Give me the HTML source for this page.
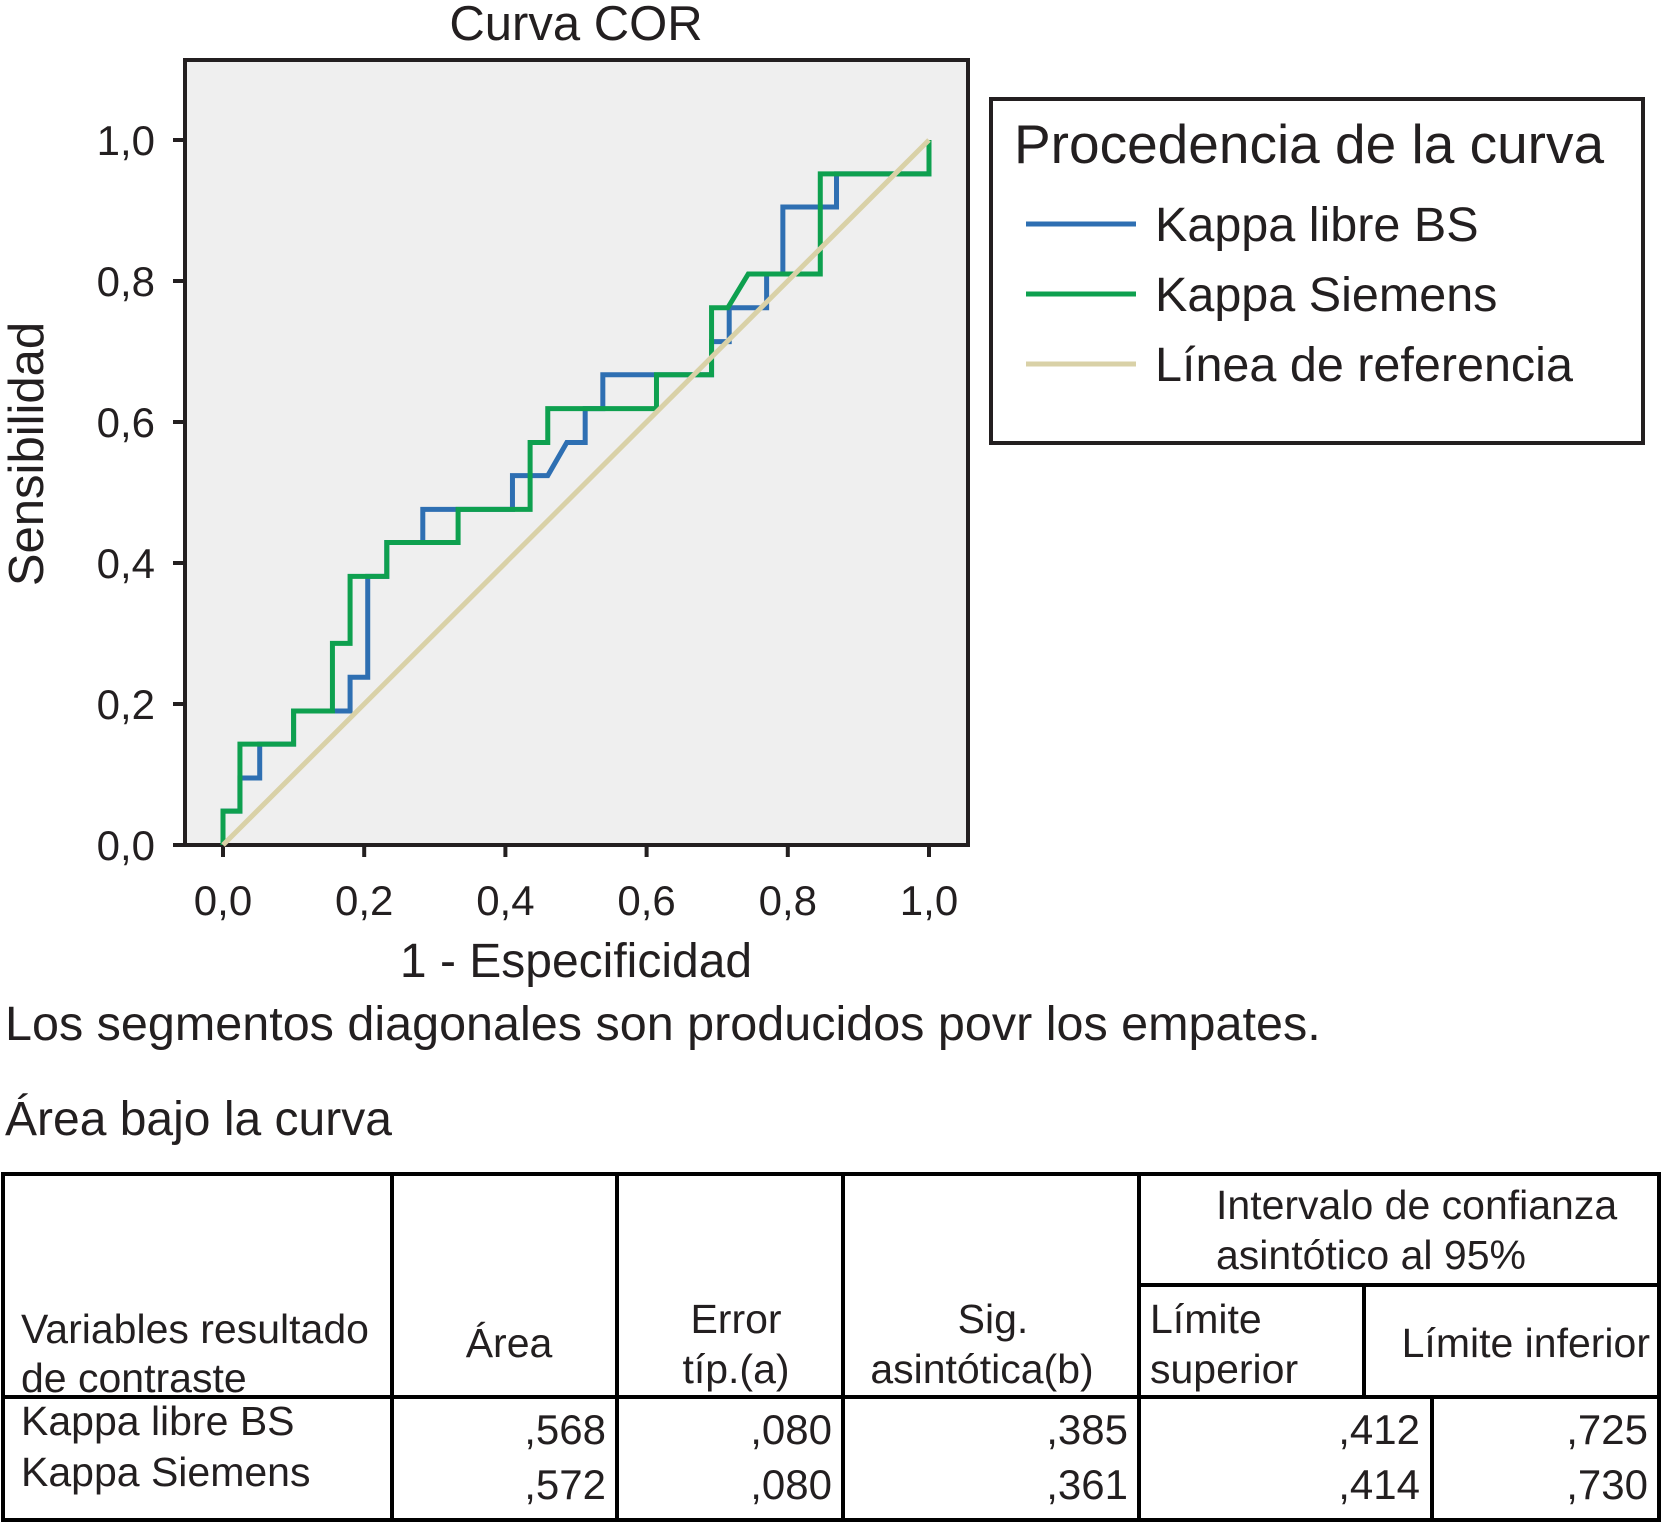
<!DOCTYPE html>
<html><head><meta charset="utf-8"><style>
html,body{margin:0;padding:0;background:#fff;}
svg{display:block;font-family:"Liberation Sans",Arial,sans-serif;fill:#231f20;}
</style></head><body>
<svg id="chart" width="1662" height="1523" viewBox="0 0 1662 1523" xmlns="http://www.w3.org/2000/svg">
<text x="576" y="40" font-size="49" text-anchor="middle">Curva COR</text>
<rect x="185" y="60" width="783" height="785" fill="#efefef" stroke="#231f20" stroke-width="4"/>
<g id="ticks"></g>
<g id="series"></g>
<text x="576" y="977" font-size="48" text-anchor="middle">1 - Especificidad</text>
<text transform="translate(43,454) rotate(-90)" font-size="49" text-anchor="middle">Sensibilidad</text>
<g>
<rect x="991" y="99" width="652" height="344" fill="#fff" stroke="#231f20" stroke-width="4"/>
<text x="1014" y="163" font-size="55">Procedencia de la curva</text>
<line x1="1026" y1="224" x2="1136" y2="224" stroke="#2e6fb2" stroke-width="5"/>
<text x="1155" y="241" font-size="48.5">Kappa libre BS</text>
<line x1="1026" y1="294" x2="1136" y2="294" stroke="#0ea04f" stroke-width="5"/>
<text x="1155" y="311" font-size="48.5">Kappa Siemens</text>
<line x1="1026" y1="364" x2="1136" y2="364" stroke="#d9d1a7" stroke-width="5"/>
<text x="1155" y="381" font-size="48.5">Línea de referencia</text>
</g>
<text x="5" y="1040" font-size="48.5">Los segmentos diagonales son producidos povr los empates.</text>
<text x="5" y="1135" font-size="48">Área bajo la curva</text>
<g stroke="#000" stroke-width="4">
<rect x="3" y="1174" width="1656" height="346" fill="none"/>
<line x1="3" y1="1397" x2="1659" y2="1397"/>
<line x1="392" y1="1174" x2="392" y2="1520"/>
<line x1="617" y1="1174" x2="617" y2="1520"/>
<line x1="843" y1="1174" x2="843" y2="1520"/>
<line x1="1139" y1="1174" x2="1139" y2="1520"/>
<line x1="1139" y1="1285" x2="1659" y2="1285"/>
<line x1="1364" y1="1285" x2="1364" y2="1397"/>
<line x1="1432" y1="1397" x2="1432" y2="1520"/>
</g>
<g font-size="41">
<text x="21" y="1343">Variables resultado</text>
<text x="21" y="1392">de contraste</text>
<text x="509" y="1357" text-anchor="middle">Área</text>
<text x="736" y="1333" text-anchor="middle">Error</text>
<text x="736" y="1383" text-anchor="middle">típ.(a)</text>
<text x="993" y="1333" text-anchor="middle">Sig.</text>
<text x="982" y="1383" text-anchor="middle">asintótica(b)</text>
<text x="1216" y="1219">Intervalo de confianza</text>
<text x="1216" y="1269">asintótico al 95%</text>
<text x="1150" y="1333">Límite</text>
<text x="1150" y="1383">superior</text>
<text x="1650" y="1357" text-anchor="end">Límite inferior</text>
<text x="21" y="1435">Kappa libre BS</text>
<text x="21" y="1486">Kappa Siemens</text>
</g>
<g id="tbody" font-size="42"></g>
</svg>
<script>
const NS="http://www.w3.org/2000/svg";
const xTicks=[0,0.2,0.4,0.6,0.8,1.0];
const yTicks=[0,0.2,0.4,0.6,0.8,1.0];
const tickLabels=["0,0","0,2","0,4","0,6","0,8","1,0"];
const blueX=[0,0,0.024,0.024,0.052,0.052,0.1,0.1,0.18,0.18,0.205,0.205,0.232,0.232,0.283,0.283,0.41,0.41,0.46,0.487,0.513,0.513,0.538,0.538,0.692,0.692,0.717,0.717,0.77,0.77,0.793,0.793,0.869,0.869,1,1];
const blueY=[0,0.048,0.048,0.095,0.095,0.143,0.143,0.19,0.19,0.238,0.238,0.381,0.381,0.429,0.429,0.476,0.476,0.524,0.524,0.571,0.571,0.619,0.619,0.667,0.667,0.714,0.714,0.762,0.762,0.81,0.81,0.905,0.905,0.952,0.952,1];
const greenX=[0,0,0.024,0.024,0.1,0.1,0.155,0.155,0.18,0.18,0.232,0.232,0.333,0.333,0.435,0.435,0.46,0.46,0.614,0.614,0.692,0.692,0.715,0.744,0.846,0.846,1,1];
const greenY=[0,0.048,0.048,0.143,0.143,0.19,0.19,0.286,0.286,0.381,0.381,0.429,0.429,0.476,0.476,0.571,0.571,0.619,0.619,0.667,0.667,0.762,0.762,0.81,0.81,0.952,0.952,1];
const refX=[0,1];
const refY=[0,1];
const rowAreas=[",568",",572"];
const rowErrors=[",080",",080"];
const rowSig=[",385",",361"];
const rowUpper=[",412",",414"];
const rowLower=[",725",",730"];
const X=v=>223+v*706;
const Y=v=>845-v*705;
const tg=document.getElementById('ticks');
xTicks.forEach((v,i)=>{
  const l=document.createElementNS(NS,'line');
  
  
  l.setAttribute('x1',X(v));l.setAttribute('x2',X(v));l.setAttribute('y1',845);l.setAttribute('y2',857);
  l.setAttribute('stroke','#231f20');l.setAttribute('stroke-width','4');tg.appendChild(l);
  const t=document.createElementNS(NS,'text');
  
  
  t.setAttribute('x',X(v));t.setAttribute('y',915);t.setAttribute('font-size','42');t.setAttribute('text-anchor','middle');
  t.textContent=tickLabels[i];tg.appendChild(t);
});
yTicks.forEach((v,i)=>{
  const l=document.createElementNS(NS,'line');
  
  
  l.setAttribute('x1',173);l.setAttribute('x2',185);l.setAttribute('y1',Y(v));l.setAttribute('y2',Y(v));
  l.setAttribute('stroke','#231f20');l.setAttribute('stroke-width','4');tg.appendChild(l);
  const t=document.createElementNS(NS,'text');
  
  
  t.setAttribute('x',155);t.setAttribute('y',Y(v)+15);t.setAttribute('font-size','42');t.setAttribute('text-anchor','end');
  t.textContent=tickLabels[i];tg.appendChild(t);
});
const sg=document.getElementById('series');
function line(xs,ys,color,name){
  const p=document.createElementNS(NS,'polyline');
  
  
  p.setAttribute('points',xs.map((x,i)=>X(x)+','+Y(ys[i])).join(' '));
  p.setAttribute('fill','none');p.setAttribute('stroke',color);p.setAttribute('stroke-width','5');
  sg.appendChild(p);
}
line(blueX,blueY,'#2e6fb2','series-kappa-libre-bs');
line(greenX,greenY,'#0ea04f','series-kappa-siemens');
line(refX,refY,'#d9d1a7','reference-line');
const tb=document.getElementById('tbody');
const cols=[[rowAreas,606],[rowErrors,832],[rowSig,1128],[rowUpper,1420],[rowLower,1648]];
[1444,1499].forEach((yy,r)=>{
  cols.forEach(([arr,xx])=>{
    const t=document.createElementNS(NS,'text');
    
    
    t.setAttribute('x',xx);t.setAttribute('y',yy);t.setAttribute('text-anchor','end');
    t.textContent=arr[r];tb.appendChild(t);
  });
});
</script>
</body></html>
